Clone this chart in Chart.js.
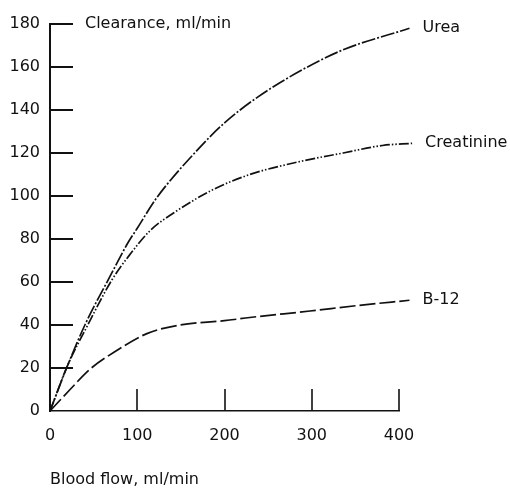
<!DOCTYPE html>
<html lang="en">
  <head>
    <meta charset="UTF-8">
    <script src="https://cdn.jsdelivr.net/npm/chart.js"></script>
    <style>
      html, body { margin: 0; padding: 0; background: #fff; }
      #clearanceChart { display: block; }
    </style>
  </head>
  <body>
    <canvas id="clearanceChart" width="510" height="489"></canvas>

    <script>
      // blood flow (ml/min) and clearance (ml/min) for each solute
      const ureaFlow = [0, 20, 40, 68, 89, 100, 122, 168, 200, 238, 286, 336, 412];
      const ureaClearance = [0, 21, 40, 62, 78, 85, 99, 121, 134, 146, 158, 168, 178];

      const creatFlow = [0, 20, 42, 71, 92, 115, 145, 187, 229, 286, 336, 381, 415];
      const creatClearance = [0, 21, 39, 61, 73, 84, 93, 103, 110, 116, 120, 123.5, 124.5];

      const b12Flow = [0, 23, 46, 76, 111, 149, 200, 229, 298, 351, 412];
      const b12Clearance = [0, 10, 19.5, 28, 36, 40, 42, 43.5, 46.5, 49, 51.5];

      const seriesNames = ['Urea', 'Creatinine', 'B-12'];
      const xTicks = [0, 100, 200, 300, 400];
      const yTicks = [0, 20, 40, 60, 80, 100, 120, 140, 160, 180];

      const FONT = '"DejaVu Sans", Helvetica, Arial, sans-serif';
      const INK = '#111';

      function pts(xs, ys) {
        return xs.map((x, i) => ({ x: x, y: ys[i] }));
      }

      function line(label, data, dash) {
        return {
          label: label,
          data: data,
          borderColor: INK,
          borderWidth: 1.7,
          borderDash: dash,
          pointRadius: 0,
          fill: false,
          tension: 0.4,
          cubicInterpolationMode: 'monotone',
          clip: false
        };
      }

      // ticks point into the plot, plus the curve names and the y title
      const annotations = {
        id: 'annotations',
        afterDatasetsDraw(chart) {
          const ctx = chart.ctx;
          const xs = chart.scales.x;
          const ys = chart.scales.y;
          ctx.save();
          ctx.strokeStyle = INK;
          ctx.lineWidth = 2;
          yTicks.forEach(v => {
            if (v === 0) return;
            const py = Math.round(ys.getPixelForValue(v));
            ctx.beginPath();
            ctx.moveTo(xs.left, py);
            ctx.lineTo(xs.left + 23, py);
            ctx.stroke();
          });
          ctx.lineWidth = 1.6;
          xTicks.forEach(v => {
            if (v === 0) return;
            const px = Math.round(xs.getPixelForValue(v));
            ctx.beginPath();
            ctx.moveTo(px, ys.bottom);
            ctx.lineTo(px, ys.bottom - 22);
            ctx.stroke();
          });

          ctx.fillStyle = INK;
          ctx.font = '16px ' + FONT;
          ctx.textBaseline = 'middle';
          ctx.textAlign = 'left';
          ctx.fillText('Clearance, ml/min', xs.left + 35, ys.getPixelForValue(180));

          chart.data.datasets.forEach(ds => {
            const last = ds.data[ds.data.length - 1];
            ctx.fillText(ds.label, xs.getPixelForValue(last.x) + 13, ys.getPixelForValue(last.y));
          });
          ctx.restore();
        }
      };

      const ctx = document.getElementById('clearanceChart').getContext('2d');

      new Chart(ctx, {
        type: 'line',
        data: {
          datasets: [
            line(seriesNames[0], pts(ureaFlow, ureaClearance), [14, 2, 2, 2]),
            line(seriesNames[1], pts(creatFlow, creatClearance), [10, 2, 1.5, 2, 1.5, 2]),
            line(seriesNames[2], pts(b12Flow, b12Clearance), [16, 4])
          ]
        },
        options: {
          responsive: false,
          animation: false,
          layout: { padding: { top: 24, right: 111, bottom: 0, left: 0 } },
          plugins: {
            legend: { display: false },
            tooltip: { enabled: false }
          },
          scales: {
            x: {
              type: 'linear',
              min: 0,
              max: 400,
              afterBuildTicks: s => { s.ticks = xTicks.map(v => ({ value: v })); },
              afterFit: s => { s.height = 78; },
              border: { display: true, color: INK, width: 1.6 },
              grid: { display: false, drawTicks: false },
              ticks: {
                color: INK,
                padding: 15,
                maxRotation: 0,
                font: { family: FONT, size: 16 }
              },
              title: {
                display: true,
                text: 'Blood flow, ml/min',
                align: 'start',
                color: INK,
                padding: { top: 24, bottom: 0 },
                font: { family: FONT, size: 16 }
              }
            },
            y: {
              type: 'linear',
              min: 0,
              max: 180,
              afterBuildTicks: s => { s.ticks = yTicks.map(v => ({ value: v })); },
              afterFit: s => { s.width = 50; },
              border: { display: true, color: INK, width: 2 },
              grid: { display: false, drawTicks: false },
              ticks: {
                color: INK,
                padding: 10,
                font: { family: FONT, size: 16 }
              }
            }
          }
        },
        plugins: [annotations]
      });
    </script>
  </body>
</html>
